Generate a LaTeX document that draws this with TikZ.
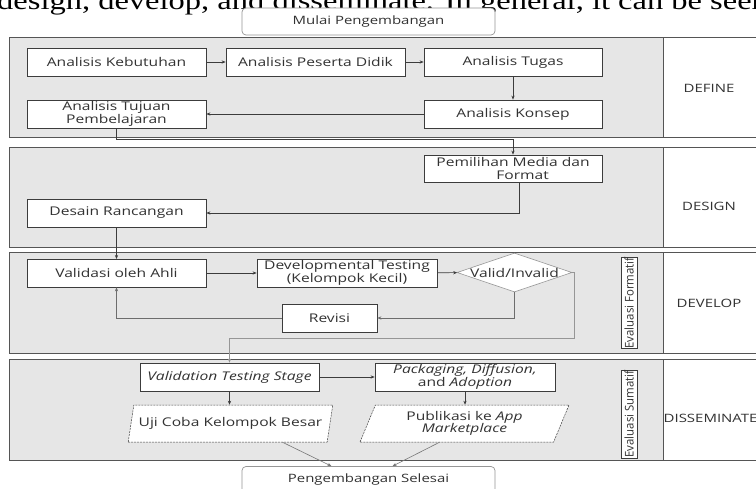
\documentclass[tikz,border=0pt]{standalone}
\usepackage{fontspec}
\setmainfont{Open Sans}[FakeStretch=1.3]
\newfontfamily\seriffont{Liberation Serif}[FakeStretch=1.25]
\newfontfamily\condfont{Open Sans}[FakeStretch=0.95]
\usetikzlibrary{shapes.geometric,arrows.meta}
\definecolor{bandfill}{RGB}{230,230,230}
\definecolor{bandline}{RGB}{85,85,85}
\definecolor{boxline}{RGB}{60,60,60}
\definecolor{txt}{RGB}{50,50,50}
\definecolor{lightline}{RGB}{150,150,150}
\begin{document}
\begin{tikzpicture}[x=1pt,y=-1pt,
  band/.style={draw=bandline,fill=bandfill,line width=0.8pt},
  labcol/.style={draw=bandline,fill=white,line width=0.8pt},
  stagelabel/.style={font=\fontsize{11.5}{12}\selectfont,text=txt},
  procbox/.style={draw=boxline,fill=white,line width=0.7pt,inner sep=1pt,align=center,
     font=\fontsize{12}{12.5}\selectfont,text=txt},
  termbox/.style={draw=lightline,fill=white,rounded corners=4pt,line width=0.7pt,
     minimum width=253pt,minimum height=27pt,font=\fontsize{11.5}{12.5}\selectfont,text=txt},
  iobox/.style={trapezium,trapezium left angle=69,trapezium right angle=111,
     trapezium stretches=true,draw=boxline,dash pattern=on 2pt off 1pt,line width=0.5pt,
     fill=white,inner sep=1pt,align=center,font=\fontsize{12}{12.5}\selectfont,text=txt},
  evalbox/.style={draw=boxline,fill=white,line width=0.6pt,minimum width=16pt,inner sep=0pt,
     font=\condfont\fontsize{12}{12}\selectfont,text=txt},
  arr/.style={-{Stealth[length=4pt,width=3.2pt]},draw=boxline,line width=0.6pt},
  larr/.style={-{Stealth[length=4pt,width=3.2pt]},draw=lightline,line width=0.6pt}]
\useasboundingbox (0,0) rectangle (756,488);
\clip (0,0) rectangle (756,488);
\fill[white] (0,0) rectangle (756,488);

% cut-off line of text above the figure
\node[anchor=base west,inner sep=0pt,font=\seriffont\fontsize{26}{26}\selectfont] (toptext) at (-3,9)
  {design, develop, and disseminate. In general, it can be seen};

% bands
\draw[band] (9,37) rectangle (663,137);
\draw[labcol] (663,37) rectangle (770,137);
\draw[band] (9,147) rectangle (663,247);
\draw[labcol] (663,147) rectangle (770,247);
\draw[band] (9,252) rectangle (663,353);
\draw[labcol] (663,252) rectangle (770,353);
\draw[band] (9,359) rectangle (663,460);
\draw[labcol] (663,359) rectangle (770,460);

\node[stagelabel] (ldefine) at (709,88) {DEFINE};
\node[stagelabel] (ldesign) at (709,206) {DESIGN};
\node[stagelabel] (ldevelop) at (709,303) {DEVELOP};
\node[stagelabel,anchor=west,inner sep=0pt] (ldissem) at (663.5,418) {DISSEMINATE};

% start / end
\node[termbox] (mulai) at (368.5,21.5) {Mulai Pengembangan};
\node[termbox] (selesai) at (368.5,480) {Pengembangan Selesai};

% DEFINE
\node[procbox,minimum width=179pt,minimum height=28pt] (kebutuhan) at (116.5,62) {Analisis Kebutuhan};
\node[procbox,minimum width=179pt,minimum height=28pt] (peserta) at (315.5,62) {Analisis Peserta Didik};
\node[procbox,minimum width=178pt,minimum height=28pt] (tugas) at (513,62) {Analisis Tugas};
\node[procbox,minimum width=178pt,minimum height=28pt] (konsep) at (513,114) {Analisis Konsep};
\node[procbox,minimum width=179pt,minimum height=28pt] (tujuan) at (116.5,114) {Analisis Tujuan\\Pembelajaran};

\draw[arr] (kebutuhan) -- (peserta);
\draw[arr] (peserta) -- (tugas);
\draw[arr] (tugas) -- (konsep);
\draw[arr] (konsep) -- (tujuan);

% DESIGN
\node[procbox,minimum width=178pt,minimum height=27pt,align=left] (pemilihan) at (513,168.5)
  {Pemilihan Media dan\\\hspace*{60pt}Format};
\node[procbox,minimum width=179pt,minimum height=28pt] (desain) at (116.5,213) {Desain Rancangan};

\draw[arr] (tujuan.south) -- ++(0,11) -| (pemilihan.north);
\draw[arr] ([xshift=6pt]pemilihan.south) |- (desain.east);
\draw[arr] (desain.south) -- (desain.south |- 0,259);

% DEVELOP
\node[procbox,minimum width=179pt,minimum height=28pt] (validasi) at (116.5,273) {Validasi oleh Ahli};
\node[procbox,minimum width=180pt,minimum height=28pt] (devtest) at (347,273) {Developmental Testing\\(Kelompok Kecil)};
\node[draw=lightline,fill=white,line width=0.6pt,shape=diamond,minimum width=115pt,minimum height=39pt,
  inner sep=0pt,label={[font=\fontsize{12}{12.5}\selectfont,text=txt]center:Valid/Invalid}] (valid) at (514.5,272.5) {};
\node[procbox,minimum width=95pt,minimum height=28pt] (revisi) at (329.5,318) {Revisi};
\node[evalbox,minimum height=78pt] (formatif) at (629,303) {\rotatebox{90}{Evaluasi Formatif}};

\draw[arr] (validasi) -- (devtest);
\draw[arr] (devtest) -- (valid);
\draw[arr,draw=boxline!75] (valid.south) |- (revisi.east);
\draw[arr,draw=boxline!75] (revisi.west) -| (validasi.south);

% DISSEMINATE
\node[procbox,minimum width=179pt,minimum height=28pt,font=\itshape\fontsize{12}{12.5}\selectfont] (valtest) at (229.5,377) {Validation Testing Stage};
\node[procbox,minimum width=180pt,minimum height=28pt] (pack) at (465,377) {\textit{Packaging, Diffusion,}\\and \textit{Adoption}};
\node[iobox,minimum width=205pt,minimum height=37pt] (uji) at (230.5,423.5) {Uji Coba Kelompok Besar};
\node[iobox,minimum width=209pt,minimum height=37pt] (publ) at (464.5,423.5) {Publikasi ke \textit{App}\\\textit{Marketplace}};
\node[evalbox,minimum height=88pt] (sumatif) at (629,414) {\rotatebox{90}{Evaluasi Sumatif}};

\draw[larr] (valid.east) -- ++(2,0) -- ++(0,66) -| (valtest.north);
\draw[arr] (valtest.south) -- (valtest.south |- uji.north);
\draw[arr] (valtest) -- (pack);
\draw[arr] (pack.south) -- (pack.south |- publ.north);
\draw[arr,draw=boxline!70] ([xshift=52pt]uji.south) -- ([xshift=-37pt]selesai.north);
\draw[arr,draw=boxline!70] ([xshift=-25pt]publ.south) -- ([xshift=24pt]selesai.north);
\end{tikzpicture}
\end{document}
